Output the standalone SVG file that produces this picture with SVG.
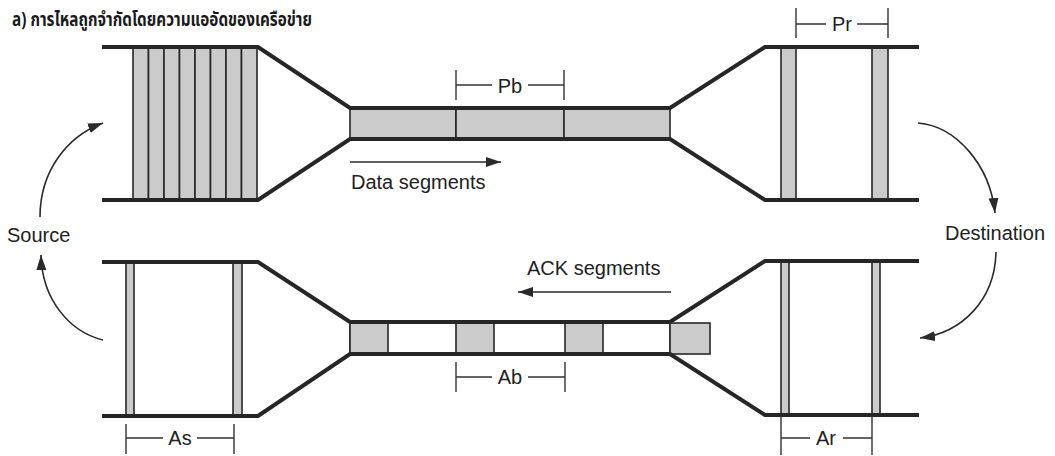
<svg xmlns="http://www.w3.org/2000/svg" width="1055" height="456" viewBox="0 0 1055 456">
  <defs>
    <marker id="head" markerUnits="userSpaceOnUse" markerWidth="16" markerHeight="12" refX="15" refY="5" orient="auto">
      <path d="M0,0 L15,5 L0,10 Z" fill="#2a2a2a"/>
    </marker>
    <style>
      .pipe { fill: none; stroke: #262626; stroke-width: 4; stroke-linejoin: miter; }
      .seg { fill: #cbcbcb; stroke: #262626; stroke-width: 1.6; }
      .empty { fill: #ffffff; stroke: #262626; stroke-width: 1.6; }
      .dim { fill: none; stroke: #333333; stroke-width: 1.4; }
      .flow { fill: none; stroke: #2a2a2a; stroke-width: 1.6; marker-end: url(#head); }
      .lbl { font-family: "Liberation Sans", Arial, sans-serif; font-size: 20px; fill: #222222; }
      .title { font-family: "Noto Sans Thai", "Noto Serif Thai", "Loma", "Garuda", "Norasi", "DejaVu Sans", sans-serif; font-size: 19px; font-weight: bold; fill: #1a1a1a; }
    </style>
  </defs>

  <rect width="1055" height="456" fill="#ffffff"/>

  <text class="title" x="12" y="26" textLength="300" lengthAdjust="spacingAndGlyphs">a) การไหลถูกจำกัดโดยความแออัดของเครือข่าย</text>

  <!-- Data direction: sender window, bottleneck, receiver -->
  <g id="sender-data">
    <rect class="seg" x="133" y="47" width="15.5" height="153"/>
    <rect class="seg" x="148.5" y="47" width="15.5" height="153"/>
    <rect class="seg" x="164" y="47" width="15.5" height="153"/>
    <rect class="seg" x="179.5" y="47" width="15.5" height="153"/>
    <rect class="seg" x="195" y="47" width="15.5" height="153"/>
    <rect class="seg" x="210.5" y="47" width="15.5" height="153"/>
    <rect class="seg" x="226" y="47" width="15.5" height="153"/>
    <rect class="seg" x="241.5" y="47" width="15.5" height="153"/>
  </g>

  <g id="bottleneck-data">
    <rect class="seg" x="350" y="108" width="106" height="31"/>
    <rect class="seg" x="456" y="108" width="108" height="31"/>
    <rect class="seg" x="564" y="108" width="106" height="31"/>
  </g>

  <g id="receiver-data">
    <rect class="seg" x="781" y="47" width="15" height="153"/>
    <rect class="seg" x="872" y="47" width="16" height="153"/>
  </g>

  <g id="pipe-data">
    <path class="pipe" d="M102,47 H258 L350,108 H670 L765,47 H919"/>
    <path class="pipe" d="M102,200 H258 L350,139 H670 L765,200 H919"/>
  </g>

  <!-- ACK direction -->
  <g id="sender-ack">
    <rect class="seg" x="126" y="262" width="8" height="154"/>
    <rect class="seg" x="233" y="262" width="9" height="154"/>
  </g>

  <g id="bottleneck-ack">
    <rect class="empty" x="350" y="322" width="320" height="32"/>
    <rect class="seg" x="350" y="322" width="38" height="32"/>
    <rect class="seg" x="456" y="322" width="38" height="32"/>
    <rect class="seg" x="565" y="322" width="38" height="32"/>
    <rect class="seg" x="670" y="323" width="40" height="31"/>
  </g>

  <g id="receiver-ack">
    <rect class="seg" x="781" y="261" width="8" height="154"/>
    <rect class="seg" x="872" y="261" width="8" height="154"/>
  </g>

  <g id="pipe-ack">
    <path class="pipe" d="M102,262 H258 L350,322 H670 L765,261 H919"/>
    <path class="pipe" d="M102,416 H258 L350,354 H670 L765,415 H919"/>
  </g>

  <!-- Spacing dimensions -->
  <g id="dim-pb">
    <path class="dim" d="M456,70 V100 M564,70 V100 M456,85 H492 M528,85 H564"/>
    <text class="lbl" x="510" y="93" text-anchor="middle">Pb</text>
  </g>
  <g id="dim-pr">
    <path class="dim" d="M796,8 V38 M888,8 V38 M796,24 H826 M857,24 H888"/>
    <text class="lbl" x="842" y="31" text-anchor="middle">Pr</text>
  </g>
  <g id="dim-ab">
    <path class="dim" d="M456,362 V392 M565,362 V392 M456,377 H492 M528,377 H565"/>
    <text class="lbl" x="510" y="384" text-anchor="middle">Ab</text>
  </g>
  <g id="dim-as">
    <path class="dim" d="M126,424 V454 M234,424 V454 M126,438 H163 M197,438 H234"/>
    <text class="lbl" x="180" y="445" text-anchor="middle">As</text>
  </g>
  <g id="dim-ar">
    <path class="dim" d="M781,416 V455 M872,416 V455 M781,438 H810 M843,438 H872"/>
    <text class="lbl" x="826" y="445" text-anchor="middle">Ar</text>
  </g>

  <!-- Endpoints -->
  <g id="source">
    <text class="lbl" x="7" y="242">Source</text>
  </g>
  <g id="destination">
    <text class="lbl" x="945" y="240">Destination</text>
  </g>

  <g id="connectors">
    <path class="flow" d="M350,162 H501"/>
    <text class="lbl" x="351" y="189">Data segments</text>
    <path class="flow" d="M671,292 H518"/>
    <text class="lbl" x="527" y="275">ACK segments</text>

    <path class="flow" d="M40,217 C40,170 68,136 103,123"/>
    <path class="flow" d="M103,340 C70,332 42,300 41,255"/>
    <path class="flow" d="M918,123 C956,126 990,165 995,213"/>
    <path class="flow" d="M996,252 C995,300 962,333 920,338"/>
  </g>
</svg>
